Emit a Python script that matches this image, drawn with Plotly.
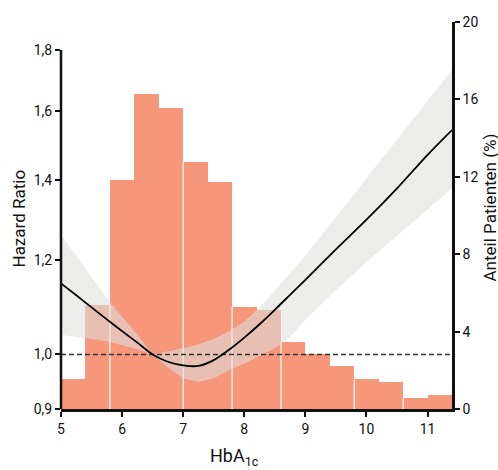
import math
import plotly.graph_objects as go

# Histogram of HbA1c distribution (right axis, % of patients)
bin_left = [5.0, 5.4, 5.8, 6.2, 6.6, 7.0, 7.4, 7.8, 8.2, 8.6, 9.0, 9.4, 9.8, 10.2, 10.6, 11.0]
bin_width = 0.4
share_pct = [1.53, 5.36, 11.86, 16.3, 15.58, 12.79, 11.75, 5.29, 5.14, 3.48, 2.83, 2.2, 1.53, 1.38, 0.55, 0.72]
# bin edges where a thin white separator is visible
gap_edges = [5.8, 7.0, 7.8, 8.6, 9.8, 10.6]

# Spline of hazard ratio with confidence band (left axis, log scale)
hba1c = [5.0, 5.25, 5.5, 5.75, 6.0, 6.25, 6.5, 6.75, 7.0, 7.25, 7.5, 7.75,
         8.0, 8.25, 8.5, 8.75, 9.0, 9.5, 10.0, 10.5, 11.0, 11.4]
hr = [1.147, 1.121, 1.095, 1.070, 1.046, 1.023, 1.000, 0.986, 0.979, 0.978, 0.989, 1.009,
      1.033, 1.060, 1.090, 1.122, 1.155, 1.225, 1.297, 1.378, 1.470, 1.542]
hr_upper = [1.259, 1.209, 1.161, 1.115, 1.076, 1.039, 1.000, 1.006, 1.012, 1.020, 1.030, 1.045,
            1.065, 1.095, 1.132, 1.169, 1.210, 1.304, 1.405, 1.514, 1.631, 1.732]
hr_lower = [1.038, 1.034, 1.030, 1.026, 1.018, 1.010, 1.000, 0.975, 0.955, 0.948, 0.955, 0.970,
            0.982, 0.997, 1.012, 1.034, 1.069, 1.132, 1.195, 1.257, 1.323, 1.378]

hr_ticks = [0.9, 1.0, 1.2, 1.4, 1.6, 1.8]
pct_ticks = [0, 4, 8, 12, 16, 20]
x_ticks = [5, 6, 7, 8, 9, 10, 11]

X_RANGE = [5, 11.4]
HR_RANGE = [math.log10(0.9), 0.2787]
FONT = "Roboto, sans-serif"
BAR_COLOR = "#f6967a"
AXIS_COLOR = "#111111"

fig = go.Figure()

fig.add_trace(go.Bar(
    x=[b + bin_width / 2 for b in bin_left],
    y=share_pct,
    width=bin_width,
    marker={"color": BAR_COLOR, "line": {"width": 0}},
    yaxis="y",
    showlegend=False
))

# thin white separators between some bars
sep_x, sep_y = [], []
for edge in gap_edges:
    i = bin_left.index(edge)
    top = min(share_pct[i - 1], share_pct[i])
    sep_x += [edge, edge, None]
    sep_y += [0, top, None]
fig.add_trace(go.Scatter(
    x=sep_x, y=sep_y, mode="lines", yaxis="y",
    line={"color": "white", "width": 1.2},
    hoverinfo="skip", showlegend=False
))

# confidence band
fig.add_trace(go.Scatter(
    x=hba1c + hba1c[::-1],
    y=hr_upper + hr_lower[::-1],
    fill="toself",
    fillcolor="rgba(222,222,220,0.58)",
    line={"width": 0},
    mode="lines",
    yaxis="y2",
    hoverinfo="skip",
    showlegend=False
))

# reference line HR = 1
fig.add_trace(go.Scatter(
    x=X_RANGE, y=[1.0, 1.0], mode="lines", yaxis="y2",
    line={"color": "#333333", "width": 1.5, "dash": "5px,3px"},
    showlegend=False
))

fig.add_trace(go.Scatter(
    x=hba1c, y=hr, mode="lines", yaxis="y2",
    line={"color": "black", "width": 1.8, "shape": "spline", "smoothing": 0.8},
    showlegend=False
))

# left axis line only spans 0.9 .. 1.8
top_frac = (math.log10(max(hr_ticks)) - HR_RANGE[0]) / (HR_RANGE[1] - HR_RANGE[0])
fig.add_shape(type="line", xref="paper", yref="paper", x0=0, x1=0, y0=0, y1=top_frac,
              line={"color": AXIS_COLOR, "width": 2.5})

# axis titles
fig.add_annotation(text="Hazard Ratio", xref="paper", yref="paper", x=0, y=0.5,
                   xanchor="center", yanchor="middle", xshift=-43, yshift=-3,
                   textangle=-90, showarrow=False, font={"size": 17})
fig.add_annotation(text="Anteil Patienten (%)", xref="paper", yref="paper", x=1, y=0.5,
                   xanchor="center", yanchor="middle", xshift=37, yshift=8,
                   textangle=-90, showarrow=False, font={"size": 17})
fig.add_annotation(text="HbA<sub>1c</sub>", xref="paper", yref="paper", x=0.445, y=0,
                   xanchor="center", yanchor="middle", yshift=-48,
                   showarrow=False, font={"size": 18})

axis_common = {
    "showgrid": False,
    "zeroline": False,
    "ticks": "outside",
    "ticklen": 5,
    "tickwidth": 2,
    "tickcolor": AXIS_COLOR,
    "automargin": False,
    "tickfont": {"size": 14},
}

fig.update_layout(
    width=498,
    height=470,
    margin={"l": 61, "r": 46, "t": 22, "b": 61},
    paper_bgcolor="white",
    plot_bgcolor="white",
    font={"family": FONT, "size": 14, "color": "#111111"},
    bargap=0,
    xaxis={
        **axis_common,
        "range": X_RANGE,
        "tickvals": x_ticks,
        "showline": True,
        "linecolor": AXIS_COLOR,
        "linewidth": 2.5,
    },
    yaxis={
        **axis_common,
        "range": [0, 20],
        "side": "right",
        "tickvals": pct_ticks,
        "showline": True,
        "linecolor": AXIS_COLOR,
        "linewidth": 2.5,
        "ticklabelstandoff": 0,
    },
    yaxis2={
        **axis_common,
        "type": "log",
        "range": HR_RANGE,
        "overlaying": "y",
        "side": "left",
        "tickvals": hr_ticks,
        "ticktext": [f"{v:.1f}".replace(".", ",") for v in hr_ticks],
        "showline": False,
    },
)

fig.write_html("out.html", config={"displayModeBar": False},
               post_script="document.body.style.margin = '0';")
